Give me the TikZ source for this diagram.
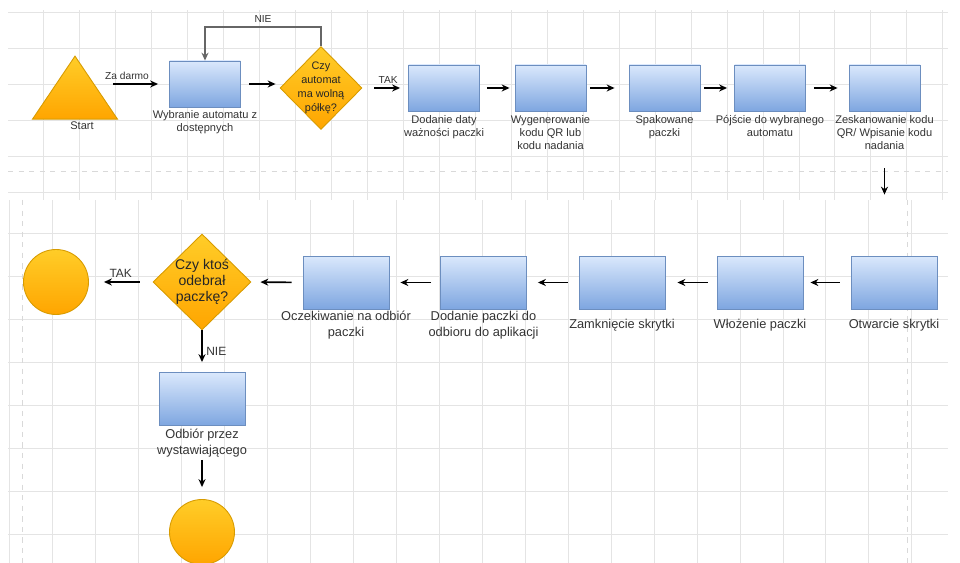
\documentclass[tikz,border=0pt]{standalone}
\usepackage{fontspec}
\setmainfont{Liberation Sans}
\usetikzlibrary{shapes.geometric,arrows.meta}

\definecolor{boxtop}{HTML}{DAE8FC}
\definecolor{boxbot}{HTML}{7EA6E0}
\definecolor{boxline}{HTML}{6C8EBF}
\definecolor{decitop}{HTML}{FFCD28}
\definecolor{decibot}{HTML}{FFA500}
\definecolor{deciline}{HTML}{D79B00}
\definecolor{txtgray}{HTML}{333333}
\definecolor{gridgray}{HTML}{E4E4E4}

\tikzset{
  krok/.style={rectangle, draw=boxline, line width=0.5pt, top color=boxtop, bottom color=boxbot,
    minimum width=1.42cm, minimum height=0.92cm, inner sep=0pt},
  krokduzy/.style={krok, minimum width=1.72cm, minimum height=1.06cm},
  pytanie/.style={diamond, draw=deciline, line width=0.5pt, top color=decitop, bottom color=decibot, inner sep=0pt},
  koniec/.style={circle, draw=deciline, line width=0.5pt, top color=decitop, bottom color=decibot,
    minimum size=1.3cm, inner sep=0pt},
  poczatek/.style={isosceles triangle, shape border rotate=90, isosceles triangle stretches,
    minimum width=1.7cm, minimum height=1.26cm, draw=deciline, line width=0.5pt,
    top color=decitop, bottom color=decibot, inner sep=0pt},
  opis/.style={text=txtgray, align=center, inner sep=0pt, font=\fontsize{6.3}{7.4}\selectfont},
  opisduzy/.style={opis, font=\fontsize{7.3}{9}\selectfont},
  pyttxt/.style={text=black!85, align=center, inner sep=0pt},
  etykieta/.style={text=txtgray, inner sep=2pt, font=\fontsize{5.8}{7}\selectfont},
  etykietaduza/.style={etykieta, font=\fontsize{6.8}{8}\selectfont},
  strzalka/.style={-{Stealth[length=4.5pt,width=4pt]}, line width=0.95pt},
  petla/.style={strzalka, draw=black!60},
  siatka/.style={gridgray, line width=0.4pt},
}

\begin{document}
\begin{tikzpicture}[x=0.02cm,y=-0.02cm]
  \useasboundingbox (0,0) rectangle (960,563);
  % siatka w tle
  \draw[siatka,shift={(7,12)}] (1,-2) grid[step=0.72cm] (941,188);
  \draw[siatka,shift={(9,18)}] (-1,182) grid[step=0.86cm] (939,545);
  \draw[siatka,dashed,draw=black!15] (8,171) -- (948,171);
  \draw[siatka,dashed,draw=black!15] (22,200) -- (22,563);
  \draw[siatka,dashed,draw=black!15] (907,200) -- (907,563);

  % gorny rzad
  \node[poczatek,anchor=apex] (start) at (75,55) {};
  \node[opis] (t-start) at (82,126) {Start};
  \node[krok] (wybor) at (205,84) {};
  \node[opis,anchor=north] (t-wybor) at ([yshift=-0.05cm]wybor.south) {Wybranie automatu z\\dostępnych};
  \node[pytanie,minimum width=1.64cm,minimum height=1.66cm] (czy) at (321,88) {};
  \node[pyttxt,font=\fontsize{6.2}{7.9}\selectfont] (t-czy) at (czy.center) {Czy\\automat\\ma wolną\\półkę?};
  \node[krok] (data) at (444,88) {};
  \node[opis,anchor=north] (t-data) at ([yshift=-0.08cm]data.south) {Dodanie daty\\ważności paczki};
  \node[krok] (kod) at (550.5,88) {};
  \node[opis,anchor=north] (t-kod) at ([yshift=-0.08cm]kod.south) {Wygenerowanie\\kodu QR lub\\kodu nadania};
  \node[krok] (spak) at (664.5,88) {};
  \node[opis,anchor=north] (t-spak) at ([yshift=-0.08cm]spak.south) {Spakowane\\paczki};
  \node[krok] (pojscie) at (770,88) {};
  \node[opis,anchor=north] (t-pojscie) at ([yshift=-0.08cm]pojscie.south) {Pójście do wybranego\\automatu};
  \node[krok] (skan) at (884.5,88) {};
  \node[opis,anchor=north] (t-skan) at ([yshift=-0.08cm]skan.south) {Zeskanowanie kodu\\QR/ Wpisanie kodu\\nadania};

  % dolny rzad
  \node[krokduzy] (otw) at (894,282.5) {};
  \node[opisduzy] (t-otw) at ([yshift=-0.31cm]otw.south) {Otwarcie skrytki};
  \node[krokduzy] (wloz) at (760,282.5) {};
  \node[opisduzy] (t-wloz) at ([yshift=-0.31cm]wloz.south) {Włożenie paczki};
  \node[krokduzy] (zamk) at (622,282.5) {};
  \node[opisduzy] (t-zamk) at ([yshift=-0.31cm]zamk.south) {Zamknięcie skrytki};
  \node[krokduzy] (dod) at (483.5,282.5) {};
  \node[opisduzy] (t-dod) at ([yshift=-0.31cm]dod.south) {Dodanie paczki do\\odbioru do aplikacji};
  \node[krokduzy] (ocz) at (346,282.5) {};
  \node[opisduzy] (t-ocz) at ([yshift=-0.31cm]ocz.south) {Oczekiwanie na odbiór\\paczki};
  \node[pytanie,minimum width=1.96cm,minimum height=1.92cm] (kto) at (202,282) {};
  \node[pyttxt,font=\fontsize{8}{9.1}\selectfont] (t-kto) at (kto.center) {Czy ktoś\\odebrał\\paczkę?};
  \node[koniec] (koniec1) at (56,282) {};
  \node[krokduzy] (odb) at (202,399) {};
  \node[opisduzy] (t-odb) at ([yshift=-0.35cm]odb.south) {Odbiór przez\\wystawiającego};
  \node[koniec] (koniec2) at (202,532) {};

  % strzalki gora
  \draw[strzalka,shorten <=0.76cm,shorten >=0.22cm] (wybor.west -| start.apex) -- (wybor.west)
    node[etykieta,midway,above,xshift=0.1cm] {Za darmo};
  \draw[strzalka,shorten <=0.16cm,shorten >=0.08cm] (wybor.east) -- (wybor.east -| czy.west);
  \draw[petla] (czy.north) -- ++(0,-19) -| (wybor.north) node[etykieta,pos=0.25,above] {NIE};
  \draw[strzalka,shorten <=0.24cm,shorten >=0.16cm] (czy.east) -- (data.west)
    node[etykieta,midway,above,xshift=0.06cm] {TAK};
  \draw[strzalka,shorten <=0.14cm,shorten >=0.1cm] (data.east) -- (kod.west);
  \draw[strzalka,shorten <=0.08cm,shorten >=0.28cm] (kod.east) -- (spak.west);
  \draw[strzalka,shorten <=0.08cm,shorten >=0.14cm] (spak.east) -- (pojscie.west);
  \draw[strzalka,shorten <=0.16cm,shorten >=0.22cm] (pojscie.east) -- (skan.west);
  \draw[strzalka,shorten <=1.14cm,shorten >=1.22cm] (skan.south) -- (skan.south |- otw.north);

  % strzalki dol
  \draw[strzalka,shorten <=0.22cm,shorten >=0.14cm] (otw.west) -- (wloz.east);
  \draw[strzalka,shorten <=0.18cm,shorten >=0.24cm] (wloz.west) -- (zamk.east);
  \draw[strzalka,shorten <=0.22cm,shorten >=0.22cm] (zamk.west) -- (dod.east);
  \draw[strzalka,shorten <=0.18cm,shorten >=0.22cm] (dod.west) -- (ocz.east);
  \draw[strzalka,shorten <=0.22cm,shorten >=0.18cm] (ocz.west) -- (kto.east);
  \draw[strzalka,shorten <=0.26cm,shorten >=0.3cm] (kto.west) -- (koniec1.east)
    node[etykietaduza,midway,above] {TAK};
  \draw[strzalka,shorten >=0.2cm] (kto.south) -- (odb.north)
    node[etykietaduza,midway,right] {NIE};
  \draw[strzalka,shorten <=0.68cm,shorten >=0.24cm] (odb.south) -- (koniec2.north);
\end{tikzpicture}
\end{document}
